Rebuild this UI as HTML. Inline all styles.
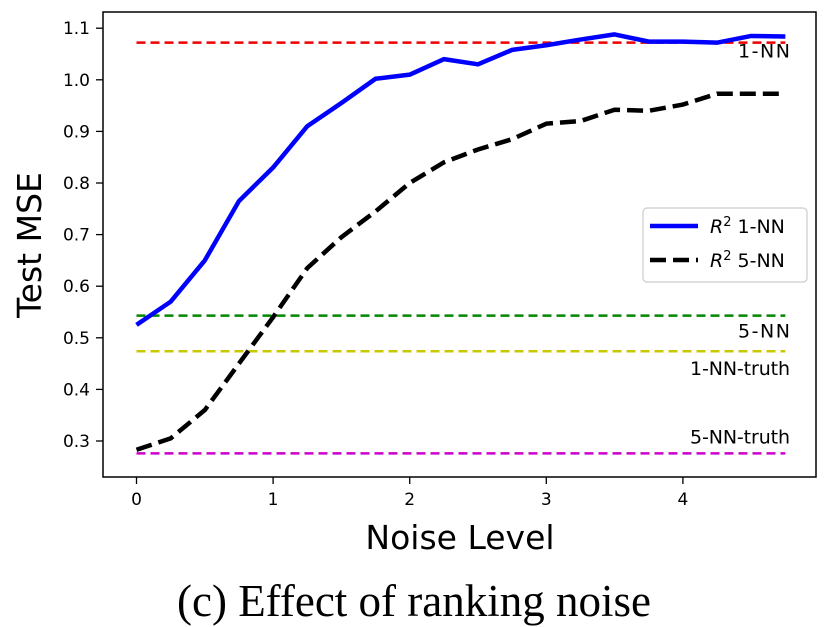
<!DOCTYPE html>
<html><head><meta charset="utf-8"><style>
body{margin:0;background:#fff;width:832px;height:627px;overflow:hidden}
svg{display:block;font-family:"DejaVu Sans","Liberation Sans",sans-serif}
</style></head><body>
<svg id="chart" width="832" height="627">
<g id="plot"></g>
</svg>
<script>
const xs=[0,0.25,0.5,0.75,1,1.25,1.5,1.75,2,2.25,2.5,2.75,3,3.25,3.5,3.75,4,4.25,4.5,4.75];
const r2_1nn=[0.525,0.57,0.65,0.765,0.83,0.91,0.955,1.002,1.01,1.04,1.03,1.058,1.067,1.078,1.088,1.074,1.074,1.072,1.085,1.084];
const r2_5nn=[0.283,0.305,0.36,0.45,0.54,0.635,0.695,0.745,0.80,0.84,0.865,0.885,0.915,0.92,0.942,0.94,0.952,0.973,0.973,0.973];
const refValues=[1.072,0.543,0.474,0.276];
const refLabels=["1-NN","5-NN","1-NN-truth","5-NN-truth"];
const refColors=["#e00","#080","#c8c800","#c0c"];
const xTicks=[0,1,2,3,4];
const yTicks=[0.3,0.4,0.5,0.6,0.7,0.8,0.9,1.0,1.1];
const X=v=>136.5+v*136.6;
const Y=v=>441-(v-0.3)*516;
const NS="http://www.w3.org/2000/svg";
const svg=document.getElementById('chart');
function mk(t,a,txt){const e=document.createElementNS(NS,t);for(const k in a)e.setAttribute(k,a[k]);if(txt!==undefined)e.textContent=txt;svg.appendChild(e);return e;}
refValues.forEach((v,i)=>{
 const l=mk('line',{x1:X(0),x2:X(4.75),y1:Y(v),y2:Y(v),stroke:refColors[i],'stroke-width':2.5,'stroke-dasharray':'9,5'});
 
 
});
const labelYOff=[15,22,24,-10];
refValues.forEach((v,i)=>{
 const t=mk('text',{x:790,y:Y(v)+labelYOff[i],'text-anchor':'end','font-size':19,fill:'#000','textLength':i>=2?100:(i==0?52:52)});
 t.textContent=refLabels[i];
 
 
});
const p1=mk('polyline',{points:xs.map((x,i)=>X(x)+','+Y(r2_1nn[i])).join(' '),fill:'none',stroke:'#00f','stroke-width':4.5,'stroke-linejoin':'round'});


const p2=mk('polyline',{points:xs.map((x,i)=>X(x)+','+Y(r2_5nn[i])).join(' '),fill:'none',stroke:'#000','stroke-width':4.5,'stroke-dasharray':'16,7'});


const box=mk('rect',{x:103,y:12,width:713,height:465,fill:'none',stroke:'#000','stroke-width':1.5});


xTicks.forEach(v=>{
 mk('line',{x1:X(v),x2:X(v),y1:477,y2:484,stroke:'#000','stroke-width':1.3});
 const t=mk('text',{x:X(v),y:505,'text-anchor':'middle','font-size':17},String(v));
 
 
});
yTicks.forEach(v=>{
 mk('line',{x1:96,x2:103,y1:Y(v),y2:Y(v),stroke:'#000','stroke-width':1.3});
 const t=mk('text',{x:90,y:Y(v)+6,'text-anchor':'end','font-size':17},v.toFixed(1));
 
 
});
const xt=mk('text',{x:460,y:549,'text-anchor':'middle','font-size':33},'Noise Level');


const yt=mk('text',{x:0,y:0,'text-anchor':'middle','font-size':33,transform:'translate(41,245) rotate(-90)'},'Test MSE');


const lg=mk('rect',{x:643,y:208,width:164,height:74,rx:4,fill:'#fff',stroke:'#ccc','stroke-width':1.2});


mk('line',{x1:650,x2:698,y1:226,y2:226,stroke:'#00f','stroke-width':4.5});
mk('line',{x1:650,x2:698,y1:260,y2:260,stroke:'#000','stroke-width':4.5,'stroke-dasharray':'16,7'});
const l1=mk('text',{x:710,y:233,'font-size':19});
l1.innerHTML='<tspan font-style="italic">R</tspan><tspan dy="-7" font-size="13">2</tspan><tspan dy="7"> 1-NN</tspan>';


const l2=mk('text',{x:710,y:267,'font-size':19});
l2.innerHTML='<tspan font-style="italic">R</tspan><tspan dy="-7" font-size="13">2</tspan><tspan dy="7"> 5-NN</tspan>';


const cap=mk('text',{x:414,y:616,'text-anchor':'middle','font-size':45,'font-family':'"Liberation Serif",serif'},'(c) Effect of ranking noise');


</script>
</body></html>
